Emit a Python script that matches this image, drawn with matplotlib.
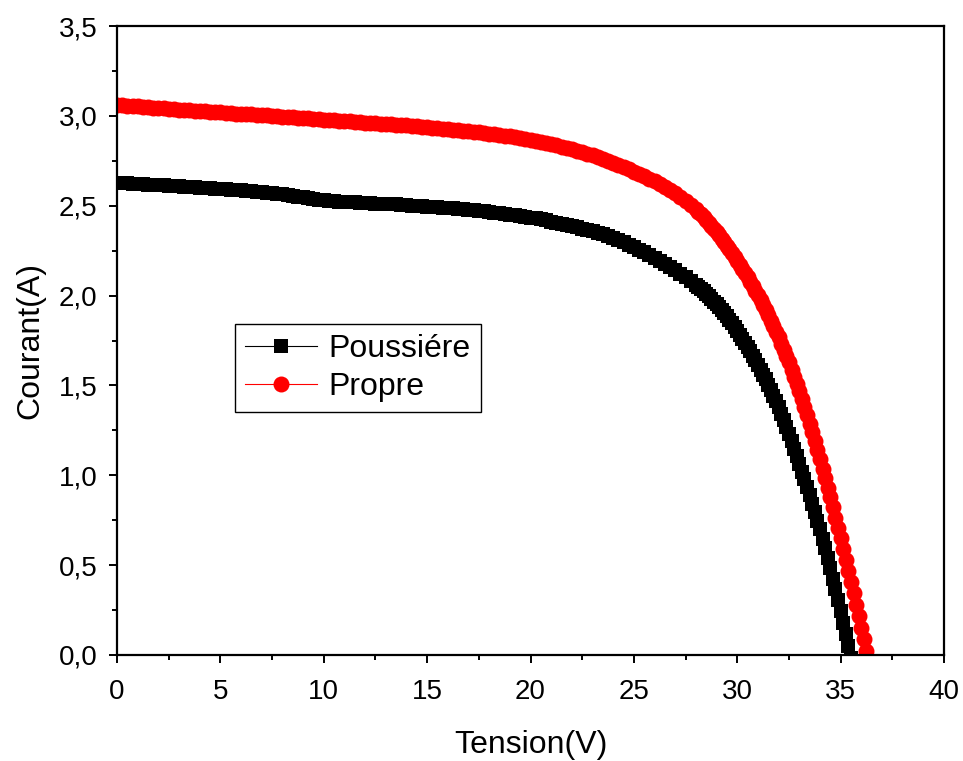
import matplotlib
matplotlib.use("Agg")
import matplotlib.pyplot as plt
from matplotlib.ticker import MultipleLocator, FuncFormatter

plt.rcParams['font.family'] = ['Liberation Sans', 'DejaVu Sans']

# ---- data -------------------------------------------------------------
tension_plateau = [
    0.0, 0.25, 0.5, 0.75, 1.0, 1.25, 1.5, 1.75, 2.0, 2.25, 2.5, 2.75, 3.0, 3.25, 3.5, 3.75,
    4.0, 4.25, 4.5, 4.75, 5.0, 5.25, 5.5, 5.75, 6.0, 6.25, 6.5, 6.75, 7.0, 7.25, 7.5, 7.75,
    8.0, 8.25, 8.5, 8.75, 9.0, 9.25, 9.5, 9.75, 10.0, 10.25, 10.5, 10.75, 11.0, 11.25, 11.5, 11.75,
    12.0, 12.25, 12.5, 12.75, 13.0, 13.25, 13.5, 13.75, 14.0, 14.25, 14.5, 14.75, 15.0, 15.25, 15.5, 15.75,
    16.0, 16.25, 16.5, 16.75, 17.0, 17.25, 17.5, 17.75, 18.0, 18.25, 18.5, 18.75, 19.0, 19.25, 19.5, 19.75,
    20.0, 20.25, 20.5, 20.75, 21.0, 21.25, 21.5, 21.75, 22.0, 22.25, 22.5, 22.75, 23.0, 23.25, 23.5, 23.75,
    24.0, 24.25, 24.5, 24.75, 25.0, 25.25, 25.5, 25.75, 26.0, 26.25, 26.5, 26.75, 27.0, 27.25, 27.5, 27.75,
    28.0]

tension_poussiere_fin = [
    28.125, 28.25, 28.375, 28.5, 28.625, 28.75, 28.875, 29.0, 29.125, 29.25, 29.375, 29.5,
    29.625, 29.75, 29.875, 30.0, 30.125, 30.25, 30.375, 30.5, 30.625, 30.75, 30.875, 31.0,
    31.125, 31.25, 31.375, 31.5, 31.625, 31.75, 31.875, 32.0, 32.125, 32.25, 32.375, 32.5,
    32.625, 32.75, 32.875, 33.0, 33.125, 33.25, 33.375, 33.5, 33.625, 33.75, 33.875, 34.0,
    34.125, 34.25, 34.375, 34.5, 34.625, 34.75, 34.875, 35.0, 35.125, 35.25, 35.375, 35.5]

tension_propre_fin = [
    28.125, 28.25, 28.375, 28.5, 28.625, 28.75, 28.875, 29.0, 29.125, 29.25, 29.375, 29.5,
    29.625, 29.75, 29.875, 30.0, 30.125, 30.25, 30.375, 30.5, 30.625, 30.75, 30.875, 31.0,
    31.125, 31.25, 31.375, 31.5, 31.625, 31.75, 31.875, 32.0, 32.125, 32.25, 32.375, 32.5,
    32.625, 32.75, 32.875, 33.0, 33.125, 33.25, 33.375, 33.5, 33.625, 33.75, 33.875, 34.0,
    34.125, 34.25, 34.375, 34.5, 34.625, 34.75, 34.875, 35.0, 35.125, 35.25, 35.375, 35.5,
    35.625, 35.75, 35.875, 36.0, 36.125, 36.25, 36.375]

courant_poussiere = [
    2.627, 2.625, 2.624, 2.622, 2.621, 2.619, 2.618, 2.616, 2.615, 2.613, 2.611, 2.610, 2.608, 2.606, 2.604, 2.602,
    2.600, 2.598, 2.597, 2.595, 2.593, 2.591, 2.589, 2.587, 2.585, 2.583, 2.581, 2.578, 2.576, 2.573, 2.570, 2.567,
    2.563, 2.559, 2.555, 2.550, 2.546, 2.542, 2.538, 2.534, 2.531, 2.528, 2.526, 2.523, 2.521, 2.519, 2.518, 2.516,
    2.515, 2.514, 2.512, 2.511, 2.510, 2.508, 2.507, 2.505, 2.503, 2.501, 2.499, 2.497, 2.495, 2.493, 2.491, 2.489,
    2.487, 2.485, 2.483, 2.481, 2.478, 2.475, 2.472, 2.469, 2.466, 2.462, 2.459, 2.455, 2.451, 2.447, 2.443, 2.439,
    2.434, 2.429, 2.424, 2.418, 2.412, 2.406, 2.400, 2.394, 2.387, 2.380, 2.373, 2.365, 2.357, 2.349, 2.340, 2.331,
    2.322, 2.310, 2.297, 2.284, 2.270, 2.256, 2.241, 2.226, 2.210, 2.193, 2.176, 2.158, 2.140, 2.121, 2.101, 2.081,
    2.060,
    2.048, 2.035, 2.023, 2.010, 1.996, 1.982, 1.967, 1.952, 1.936, 1.919, 1.902, 1.885,
    1.866, 1.846, 1.826, 1.805, 1.783, 1.760, 1.738, 1.715, 1.690, 1.665, 1.640, 1.615,
    1.588, 1.560, 1.533, 1.505, 1.474, 1.443, 1.411, 1.380, 1.343, 1.305, 1.268, 1.230,
    1.189, 1.148, 1.106, 1.065, 1.021, 0.977, 0.934, 0.890, 0.843, 0.795, 0.748, 0.700,
    0.646, 0.593, 0.539, 0.485, 0.425, 0.365, 0.305, 0.245, 0.180, 0.115, 0.050, -0.015]

courant_propre = [
    3.062, 3.060, 3.057, 3.055, 3.053, 3.050, 3.048, 3.045, 3.043, 3.041, 3.039, 3.037, 3.035, 3.033, 3.031, 3.029,
    3.027, 3.025, 3.023, 3.021, 3.019, 3.017, 3.015, 3.013, 3.011, 3.009, 3.008, 3.006, 3.004, 3.002, 3.000, 2.998,
    2.996, 2.994, 2.992, 2.990, 2.988, 2.986, 2.984, 2.981, 2.979, 2.977, 2.975, 2.973, 2.971, 2.969, 2.967, 2.965,
    2.963, 2.961, 2.959, 2.957, 2.955, 2.953, 2.951, 2.949, 2.947, 2.945, 2.942, 2.940, 2.937, 2.934, 2.932, 2.929,
    2.926, 2.923, 2.920, 2.917, 2.914, 2.911, 2.908, 2.904, 2.901, 2.897, 2.894, 2.890, 2.886, 2.881, 2.877, 2.872,
    2.867, 2.861, 2.855, 2.849, 2.843, 2.836, 2.829, 2.822, 2.815, 2.807, 2.798, 2.789, 2.780, 2.770, 2.760, 2.749,
    2.738, 2.726, 2.714, 2.702, 2.690, 2.677, 2.663, 2.649, 2.635, 2.619, 2.602, 2.585, 2.568, 2.548, 2.527, 2.504,
    2.480,
    2.466, 2.452, 2.437, 2.423, 2.406, 2.389, 2.372, 2.355, 2.336, 2.317, 2.298, 2.278,
    2.257, 2.236, 2.215, 2.194, 2.172, 2.149, 2.126, 2.103, 2.078, 2.053, 2.028, 2.003,
    1.976, 1.948, 1.920, 1.892, 1.861, 1.830, 1.799, 1.768, 1.733, 1.698, 1.663, 1.628,
    1.588, 1.548, 1.508, 1.468, 1.423, 1.378, 1.333, 1.288, 1.239, 1.189, 1.140, 1.090,
    1.037, 0.984, 0.931, 0.878, 0.821, 0.764, 0.707, 0.650, 0.589, 0.529, 0.468, 0.408,
    0.344, 0.281, 0.217, 0.153, 0.088, 0.023, -0.042]

noms_series = ["Poussiére", "Propre"]
x_ticks = [0, 5, 10, 15, 20, 25, 30, 35, 40]
y_ticks = [0.0, 0.5, 1.0, 1.5, 2.0, 2.5, 3.0, 3.5]

tension_poussiere = tension_plateau + tension_poussiere_fin
tension_propre = tension_plateau + tension_propre_fin

# ---- figure -----------------------------------------------------------
fig = plt.figure(figsize=(9.63, 7.61), dpi=100)
ax = fig.add_axes([117/963, 106/761, 827/963, 629/761])

ax.plot(tension_poussiere, courant_poussiere, color='black', lw=0.8,
        marker='s', markersize=10.4, markeredgewidth=0, label=noms_series[0])
ax.plot(tension_propre, courant_propre, color='red', lw=0.8,
        marker='o', markersize=11.5, markeredgewidth=0, label=noms_series[1])

ax.set_xlim(0, 40)
ax.set_ylim(0, 3.5)
ax.set_xticks(x_ticks)
ax.set_yticks(y_ticks)
ax.xaxis.set_minor_locator(MultipleLocator(2.5))
ax.yaxis.set_minor_locator(MultipleLocator(0.25))
ax.xaxis.set_major_formatter(FuncFormatter(lambda v, p: f"{v:g}"))
ax.yaxis.set_major_formatter(FuncFormatter(lambda v, p: f"{v:.1f}".replace('.', ',')))

for s in ax.spines.values():
    s.set_linewidth(1.6)
ax.tick_params(which='both', direction='out', top=False, right=False, width=1.4)
ax.tick_params(which='major', length=6, labelsize=20)
ax.tick_params(which='minor', length=3.5)
ax.tick_params(axis='x', which='major', pad=11)
ax.tick_params(axis='y', which='major', pad=8)

ax.set_xlabel("Tension(V)", fontsize=23, labelpad=18)
ax.set_ylabel("Courant(A)", fontsize=23, labelpad=10)

leg = ax.legend(loc='upper left', bbox_to_anchor=(235/963, 1 - 324/761),
                bbox_transform=fig.transFigure, borderaxespad=0,
                fontsize=23, frameon=True, fancybox=False, framealpha=1,
                edgecolor='black', numpoints=1, handlelength=2.25,
                handletextpad=0.35, labelspacing=0.25, borderpad=0.32)
leg.get_frame().set_linewidth(1.0)

fig.savefig("out.png", dpi=100)
